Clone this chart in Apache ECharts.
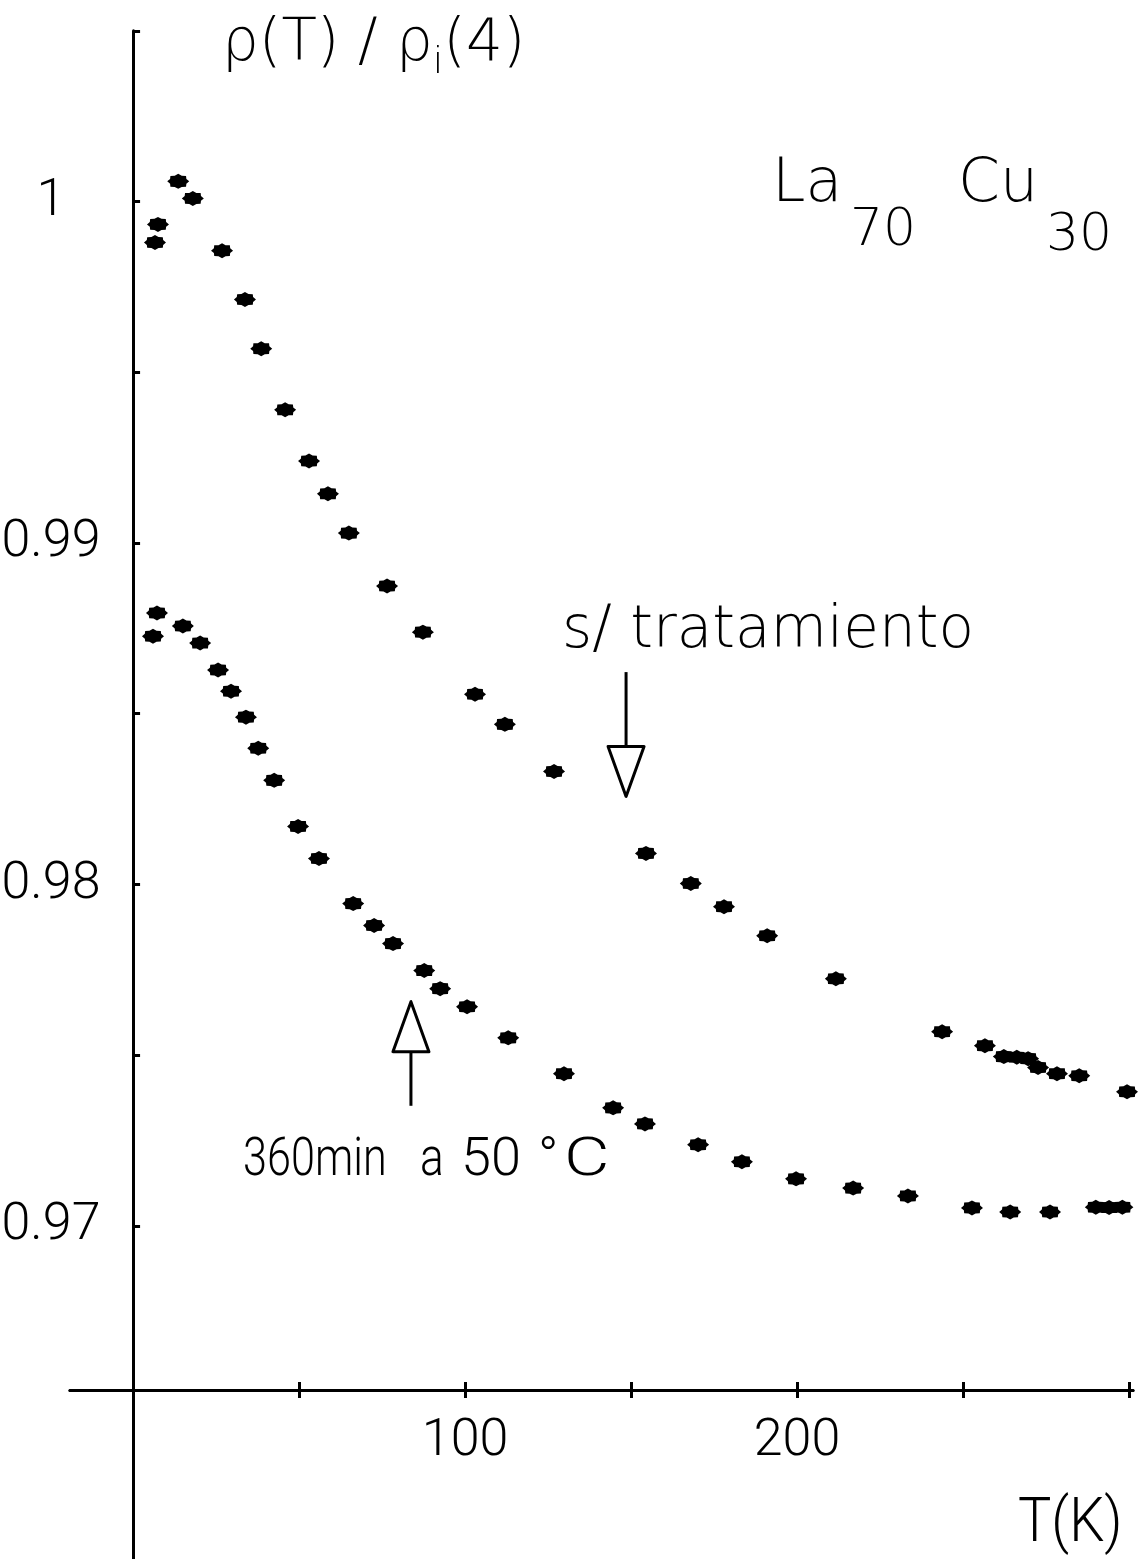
<!DOCTYPE html>
<html>
<head>
<meta charset="utf-8">
<script src="https://cdn.jsdelivr.net/npm/echarts@6.0.0/dist/echarts.min.js"></script>
<style>
  html, body { margin: 0; padding: 0; background: #fff; }
  #chart { width: 1138px; height: 1559px; }
</style>
</head>
<body>
<div id="chart"></div>
<script>
// La70Cu30: normalised resistivity rho(T)/rho_i(4) versus temperature
const untreatedT = [6.6, 7.5, 13.6, 18, 26.8, 33.7, 38.6, 45.8, 53, 58.7, 65, 76.5, 87.3, 103, 112, 126.8,
  154.5, 168, 178, 191, 211.7, 243.7, 256.6, 262.3, 266.2, 269.6, 272.6, 278.3, 285, 299.4];
const untreatedRho = [0.9988, 0.99933, 1.00059, 1.00009, 0.99856, 0.99713, 0.99569, 0.9939, 0.9924, 0.99144,
  0.99029, 0.98874, 0.98739, 0.98557, 0.98469, 0.98331, 0.98091, 0.98003, 0.97935, 0.9785, 0.97724, 0.97569,
  0.97528, 0.97496, 0.97494, 0.9749, 0.97464, 0.97446, 0.9744, 0.97393];

const annealedT = [6, 7.2, 15, 20.2, 25.6, 29.5, 34, 37.7, 42.5, 49.7, 56, 66.3, 72.6, 78.3, 87.7, 92.5, 100.6,
  113, 129.8, 144.6, 154.2, 170.2, 183.4, 199.7, 216.9, 233.4, 252.7, 264.2, 276.2, 290, 294, 298];
const annealedRho = [0.98727, 0.98795, 0.98757, 0.98707, 0.98628, 0.98566, 0.9849, 0.98399, 0.98305, 0.9817,
  0.98076, 0.97944, 0.9788, 0.97827, 0.97748, 0.97695, 0.97642, 0.97551, 0.97446, 0.97346, 0.97299, 0.97238,
  0.97188, 0.97138, 0.97111, 0.97088, 0.97053, 0.97041, 0.97041, 0.97055, 0.97054, 0.97055];

// axis ranges and ticks
const tRange = [-19, 301.2];
const rhoRange = [0.96, 1.005];
const xAxisAt = 0.9652;
const xTickValues = [50, 100, 150, 200, 250, 300];
const xLabelValues = [100, 200];
const yTickValues = [0.97, 0.975, 0.98, 0.985, 0.99, 0.995, 1, 1.005];
const yLabelValues = [0.97, 0.98, 0.99, 1];

// annotation arrows: [T, rho at tail, rho at tip]
const arrowUntreated = [148.5, 0.98622, 0.98258];
const arrowAnnealed = [83.7, 0.97352, 0.97657];

const chart = echarts.init(document.getElementById('chart'), null, { renderer: 'canvas' });

const gridTop = 30.75, gridBottom = -8.5, gridLeft = 70, gridRight = 5;
const gridHeight = 1559 - gridTop - gridBottom;
const xAxisOffset = -gridHeight * (xAxisAt - rhoRange[0]) / (rhoRange[1] - rhoRange[0]);

const ink = '#000';
const numFont = 'Roboto, "Liberation Sans", sans-serif';
const wordFont = '"DejaVu Sans", sans-serif';

const star = 'path://M100,0 L74,32 L71,71 L32,74 L0,100 L-32,74 L-71,71 L-74,32 L-100,0 L-74,-32 L-71,-71 L-32,-74 L0,-100 L32,-74 L71,-71 L74,-32 Z';

function zip(a, b) { return a.map((v, i) => [v, b[i]]); }

function xAxisCfg(inside, showLabels) {
  return {
    type: 'value', min: tRange[0], max: tRange[1], position: 'bottom', offset: xAxisOffset,
    axisLine: { show: true, onZero: false, lineStyle: { color: ink, width: 3 } },
    axisTick: { show: true, inside: inside, length: 8, customValues: xTickValues, lineStyle: { color: ink, width: 3 } },
    axisLabel: {
      show: showLabels, customValues: xLabelValues, margin: 26, color: ink,
      fontFamily: numFont, fontWeight: 300, fontSize: 52, formatter: v => String(v)
    },
    splitLine: { show: false }
  };
}

function note(text, left, top, size, family, weight, sx) {
  return {
    type: 'text', left: left, top: top, silent: true, scaleX: sx || 1,
    style: { text: text, fill: ink, font: weight + ' ' + size + 'px ' + family }
  };
}

const option = {
  backgroundColor: '#fff',
  animation: false,
  grid: { left: gridLeft, right: gridRight, top: gridTop, bottom: gridBottom,
    containLabel: false, outerBoundsMode: 'none' },
  xAxis: [xAxisCfg(false, true), xAxisCfg(true, false)],
  yAxis: {
    type: 'value', min: rhoRange[0], max: rhoRange[1], interval: 0.005,
    axisLine: { show: true, onZero: true, lineStyle: { color: ink, width: 3 } },
    axisTick: { show: true, inside: true, length: 7, customValues: yTickValues, lineStyle: { color: ink, width: 3 } },
    axisLabel: {
      show: true, customValues: yLabelValues, margin: -33, color: ink,
      formatter: v => '{c|' + (Math.abs(v - 1) < 1e-9 ? '1' : v.toFixed(2)) + '}',
      rich: { c: { width: 104, align: 'center', fontFamily: numFont, fontWeight: 300, fontSize: 52, color: ink } }
    },
    splitLine: { show: false }
  },
  series: [
    {
      name: 's/ tratamiento', type: 'scatter', data: zip(untreatedT, untreatedRho),
      symbol: star, symbolSize: [22, 15], itemStyle: { color: ink, opacity: 1 }, silent: true
    },
    {
      name: '360 min a 50 °C', type: 'scatter', data: zip(annealedT, annealedRho),
      symbol: star, symbolSize: [22, 15], itemStyle: { color: ink, opacity: 1 }, silent: true
    },
    {
      type: 'custom', silent: true,
      data: [arrowUntreated, arrowAnnealed],
      encode: { x: 0, y: [1, 2] },
      renderItem: function (params, api) {
        const tail = api.coord([api.value(0), api.value(1)]);
        const tip = api.coord([api.value(0), api.value(2)]);
        const dir = Math.sign(tip[1] - tail[1]);
        const headLen = 50, half = 18;
        const base = tip[1] - dir * headLen;
        return {
          type: 'group',
          children: [
            { type: 'line', shape: { x1: tail[0], y1: tail[1], x2: tip[0], y2: base },
              style: { stroke: ink, lineWidth: 3 } },
            { type: 'polygon', shape: { points: [[tip[0] - half, base], [tip[0] + half, base], [tip[0], tip[1]]] },
              style: { fill: '#fff', stroke: ink, lineWidth: 3, lineJoin: 'round' } }
          ]
        };
      }
    }
  ],
  graphic: [
    { type: 'text', left: 222, top: 16, silent: true,
      style: { text: 'ρ(T) / ρ{s|i}(4)', fill: ink, font: '200 58px ' + wordFont,
        rich: { s: { fontSize: 38, fontFamily: 'DejaVu Sans', fontWeight: 200, padding: [36, 0, 0, 0] } } } },
    note('La', 772, 155, 60, wordFont, 200),
    note('70', 850, 205, 52, wordFont, 200),
    note('Cu', 958, 155, 60, wordFont, 200),
    note('30', 1046, 210, 52, wordFont, 200),
    note('s/ tratamiento', 562, 603, 58, wordFont, 200),
    note('360min', 243, 1134, 54, numFont, 300, 0.8),
    note('a', 420, 1134, 54, numFont, 300, 0.82),
    note('50', 461, 1134, 54, numFont, 300, 1),
    note('°', 538, 1134, 54, numFont, 300, 1),
    note('C', 564, 1134, 54, numFont, 300, 1.3),
    note('T(K)', 1018, 1494, 62, numFont, 300, 0.9)
  ]
};

chart.setOption(option);
</script>
</body>
</html>
